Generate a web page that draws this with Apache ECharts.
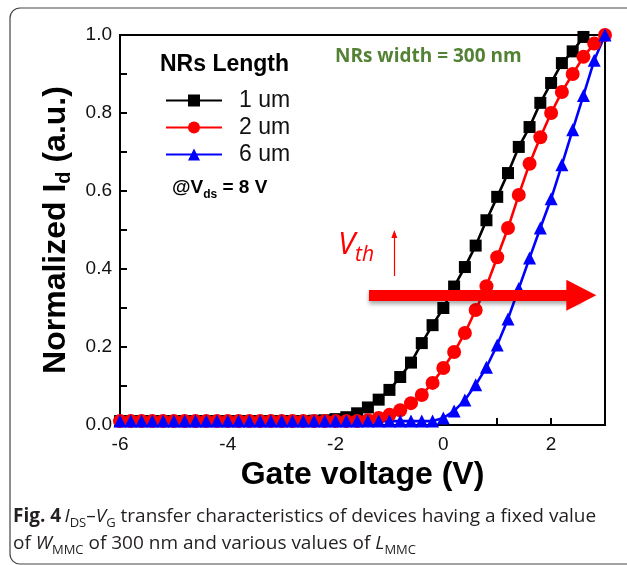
<!DOCTYPE html>
<html>
<head>
<meta charset="utf-8">
<script src="https://cdn.jsdelivr.net/npm/echarts@6/dist/echarts.min.js"></script>
<style>
  html, body { margin: 0; padding: 0; background: #fff; }
  #chart { width: 627px; height: 565px; }
</style>
</head>
<body>
<div id="chart"></div>
<script>
// gate voltage, step 0.2 V
var voltage = [-6.0, -5.8, -5.6, -5.4, -5.2, -5.0, -4.8, -4.6, -4.4, -4.2,
  -4.0, -3.8, -3.6, -3.4, -3.2, -3.0, -2.8, -2.6, -2.4, -2.2,
  -2.0, -1.8, -1.6, -1.4, -1.2, -1.0, -0.8, -0.6, -0.4, -0.2,
  0.0, 0.2, 0.4, 0.6, 0.8, 1.0, 1.2, 1.4, 1.6, 1.8,
  2.0, 2.2, 2.4, 2.6, 2.8, 3.0];

// normalized Id, 1 um (ends at 2.6 V)
var len1um = [0.01, 0.01, 0.01, 0.01, 0.01, 0.01, 0.01, 0.01, 0.01, 0.01,
  0.01, 0.01, 0.01, 0.01, 0.01, 0.01, 0.01, 0.01, 0.011, 0.012,
  0.015, 0.02, 0.03, 0.045, 0.065, 0.09, 0.123, 0.16, 0.21, 0.256,
  0.30, 0.355, 0.405, 0.46, 0.525, 0.585, 0.646, 0.713, 0.764, 0.826,
  0.877, 0.928, 0.958, 0.995];

// 2 um
var len2um = [0.01, 0.01, 0.01, 0.01, 0.01, 0.01, 0.01, 0.01, 0.01, 0.01,
  0.01, 0.01, 0.01, 0.01, 0.01, 0.01, 0.01, 0.01, 0.01, 0.01,
  0.01, 0.01, 0.01, 0.012, 0.018, 0.026, 0.038, 0.056, 0.077, 0.108,
  0.146, 0.187, 0.236, 0.295, 0.356, 0.43, 0.505, 0.59, 0.67, 0.738,
  0.80, 0.854, 0.90, 0.944, 0.978, 1.0];

// 6 um
var len6um = [0.01, 0.01, 0.01, 0.01, 0.01, 0.01, 0.01, 0.01, 0.01, 0.01,
  0.01, 0.01, 0.01, 0.01, 0.01, 0.01, 0.01, 0.01, 0.01, 0.01,
  0.01, 0.01, 0.01, 0.01, 0.01, 0.01, 0.01, 0.01, 0.01, 0.01,
  0.018, 0.036, 0.064, 0.103, 0.148, 0.205, 0.272, 0.35, 0.428, 0.505,
  0.58, 0.667, 0.757, 0.845, 0.935, 1.0];

// arrows in data coordinates [V, Id]
var bigArrow = [[-1.38, 0.333], [2.56, 0.333]];
var vthArrow = [[-0.91, 0.382], [-0.91, 0.49]];

function pairs(ys) {
  var out = [];
  for (var i = 0; i < ys.length; i++) out.push([voltage[i], ys[i]]);
  return out;
}

var myChart = echarts.init(document.getElementById('chart'), null, { renderer: 'canvas' });

var fontMain = '"Liberation Sans", Arial, sans-serif';
var fontCap = '"Open Sans", sans-serif';

function mkSeries(name, ys, color, symbol, size) {
  return {
    name: name,
    type: 'line',
    data: pairs(ys),
    symbol: symbol,
    symbolSize: size,
    showAllSymbol: true,
    lineStyle: { color: color, width: 2.6 },
    itemStyle: { color: color, borderWidth: 0 },
    emphasis: { disabled: true },
    z: 3
  };
}

var option = {
  animation: false,
  backgroundColor: '#fff',
  grid: {
    left: 120, right: 22, top: 35, bottom: 140,
    show: true, borderColor: '#000', borderWidth: 2, backgroundColor: 'transparent'
  },
  legend: {
    data: ['1 um', '2 um', '6 um'],
    orient: 'vertical',
    left: 160, top: 84,
    itemWidth: 56, itemHeight: 15, itemGap: 4,
    textStyle: { fontFamily: fontMain, fontSize: 23, color: '#111', padding: [0, 0, 0, 12] }
  },
  xAxis: {
    type: 'value',
    min: -6, max: 3, interval: 2,
    name: 'Gate voltage (V)',
    nameLocation: 'middle',
    nameGap: 31,
    nameTextStyle: { fontFamily: fontMain, fontSize: 32, fontWeight: 'bold', color: '#000' },
    axisLine: { show: true, onZero: false, lineStyle: { color: '#000', width: 2 } },
    axisTick: { show: true, inside: true, length: 7, lineStyle: { color: '#000', width: 2 } },
    minorTick: { show: true, splitNumber: 2, length: 7, lineStyle: { color: '#000', width: 2 } },
    splitLine: { show: false },
    axisLabel: { showMaxLabel: false, margin: 10, fontFamily: fontMain, fontSize: 19, color: '#111' }
  },
  yAxis: {
    type: 'value',
    min: 0, max: 1, interval: 0.2,
    name: '{a|Normalized I}{s|d}{a| (a.u.)}',
    nameLocation: 'middle',
    nameRotate: 90,
    nameGap: 45,
    nameTextStyle: {
      rich: {
        a: { fontFamily: fontMain, fontSize: 32, fontWeight: 'bold', color: '#000', lineHeight: 38 },
        s: { fontFamily: fontMain, fontSize: 20, fontWeight: 'bold', color: '#000', lineHeight: 24, verticalAlign: 'bottom' }
      }
    },
    axisLine: { show: true, onZero: false, lineStyle: { color: '#000', width: 2 } },
    axisTick: { show: true, inside: true, length: 7, lineStyle: { color: '#000', width: 2 } },
    minorTick: { show: true, splitNumber: 2, length: 7, lineStyle: { color: '#000', width: 2 } },
    splitLine: { show: false },
    axisLabel: {
      margin: 8, fontFamily: fontMain, fontSize: 19, color: '#111',
      formatter: function (v) { return v.toFixed(1); }
    }
  },
  series: [
    mkSeries('1 um', len1um, '#000000', 'rect', 12),
    mkSeries('2 um', len2um, '#ff0000', 'circle', 14),
    mkSeries('6 um', len6um, '#0000ff', 'triangle', 13),
    {
      name: 'arrows',
      type: 'line',
      data: [],
      z: 10,
      markLine: {
        silent: true,
        animation: false,
        label: { show: false },
        emphasis: { disabled: true },
        data: [
          [
            { coord: bigArrow[0], symbol: 'none',
              lineStyle: { color: '#ff0000', width: 11, type: 'solid',
                shadowColor: 'rgba(0,0,0,0.35)', shadowBlur: 4, shadowOffsetY: 3 } },
            { coord: bigArrow[1], symbol: 'triangle', symbolSize: [31, 30] }
          ],
          [
            { coord: vthArrow[0], symbol: 'none', lineStyle: { color: '#ff0000', width: 1.2, type: 'solid' } },
            { coord: vthArrow[1], symbol: 'triangle', symbolSize: [6, 8] }
          ]
        ]
      }
    }
  ],
  graphic: [
    {
      type: 'rect',
      shape: { x: 10, y: 8, width: 640, height: 556, r: 10 },
      style: { fill: 'none', stroke: '#444', lineWidth: 1.2 },
      silent: true
    },
    {
      type: 'text', left: 160, top: 53,
      style: { text: 'NRs Length', font: 'bold 23px ' + fontMain, fill: '#000' }
    },
    {
      type: 'text', left: 335, top: 47,
      style: { text: 'NRs width = 300 nm', font: 'bold 19px ' + fontCap, fill: '#548235' }
    },
    {
      type: 'text', left: 172, top: 178,
      style: {
        text: '{a|@V}{s|ds}{a| = 8 V}',
        rich: {
          a: { fontFamily: fontMain, fontSize: 19, fontWeight: 'bold', fill: '#000', lineHeight: 26 },
          s: { fontFamily: fontMain, fontSize: 12, fontWeight: 'bold', fill: '#000', lineHeight: 14, verticalAlign: 'bottom' }
        }
      }
    },
    {
      type: 'text', left: 338, top: 230,
      style: {
        text: '{v|V}{s|th}',
        rich: {
          v: { fontFamily: fontCap, fontSize: 31, fontStyle: 'italic', fill: '#ff0000', lineHeight: 40 },
          s: { fontFamily: fontCap, fontSize: 21, fontStyle: 'italic', fill: '#ff0000', lineHeight: 22, verticalAlign: 'bottom' }
        }
      }
    },
    {
      type: 'text', left: 13, top: 507,
      style: {
        text: '{b|Fig. 4} {i|I}{s|DS}{r|–}{i|V}{s|G}{r| transfer characteristics of devices having a fixed value}\n' +
              '{r|of }{i|W}{s|MMC}{r| of 300 nm and various values of }{i|L}{s|MMC}',
        rich: {
          b: { fontFamily: fontCap, fontSize: 19, fontWeight: 'bold', fill: '#231f20', lineHeight: 27 },
          r: { fontFamily: fontCap, fontSize: 19, fill: '#231f20', lineHeight: 27 },
          i: { fontFamily: fontCap, fontSize: 19, fontStyle: 'italic', fill: '#231f20', lineHeight: 27 },
          s: { fontFamily: fontCap, fontSize: 13, fill: '#231f20', lineHeight: 18, verticalAlign: 'bottom' }
        }
      }
    }
  ]
};

myChart.setOption(option);
</script>
</body>
</html>
